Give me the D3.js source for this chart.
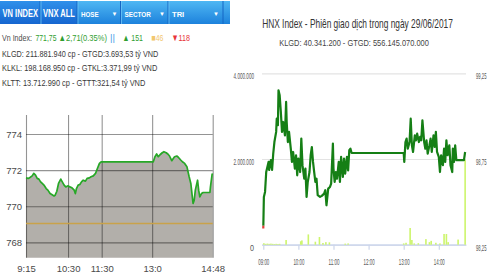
<!DOCTYPE html>
<html>
<head>
<meta charset="utf-8">
<script src="https://cdn.jsdelivr.net/npm/d3@7"></script>
<style>
  html, body { margin: 0; padding: 0; background: #fff; }
  svg { display: block; }
  text { font-family: "Liberation Sans", Arial, sans-serif; }
</style>
</head>
<body>
<svg id="chart" width="490" height="275"></svg>
<script>
// ---------- VN-Index intraday (HOSE) ----------
const vnTimes = [
  "9:15","9:19","9:22","9:26","9:29","9:32","9:35","9:38","9:41","9:44","9:47","9:51","9:54","9:58",
  "10:01","10:05","10:07","10:10","10:13","10:17","10:19","10:23","10:26","10:30","10:33","10:37","10:41",
  "10:43","10:45","10:48","10:51","10:54","10:57","11:01","11:04","11:08","11:11","11:15","11:19","11:22",
  "11:26","11:29","13:00","13:02","13:05","13:08","13:11","13:14","13:18","13:21","13:25","13:28","13:31",
  "13:33","13:35","13:38","13:40","13:44","13:47","13:51","13:54","13:58","14:02","14:04","14:06","14:09",
  "14:11","14:13","14:15","14:17","14:21","14:23","14:25","14:28","14:31","14:43","14:44","14:47","14:48"
];
const vnValues = [
  771.57,771.54,771.59,771.68,771.82,771.72,771.54,771.50,771.35,771.26,771.17,770.98,770.89,770.70,
  770.65,770.57,770.61,770.83,771.26,771.50,771.39,771.17,771.07,771.13,771.07,771.02,770.89,
  770.70,770.98,771.17,771.20,771.35,771.44,771.39,771.54,771.57,771.63,771.68,771.82,772.06,
  772.37,772.46,772.46,772.46,772.74,772.89,772.74,772.85,772.96,773.02,772.96,772.89,772.78,
  772.65,772.52,772.65,772.74,772.78,772.70,772.56,772.46,772.37,772.19,771.91,771.63,771.26,
  770.70,770.15,770.33,770.89,771.44,770.89,770.52,770.70,770.76,770.76,771.07,771.78,771.75
];
const vnReference = 769.04;
const vnYTicks = [768, 770, 772, 774];
const vnXTickLabels = ["9:15", "10:30", "11:30", "13:0", "14:48"];

const tabLabels = ["VN INDEX", "VNX ALL", "HOSE", "SECTOR", "TRI"];
const tabHasMenu = [false, false, true, true, true];

const vnLastText = "771,75";
const vnChangeText = "▲2,71(0.35%)";
const vnAdvancers = 151;
const vnUnchanged = 46;
const vnDecliners = 118;
const vnStatLines = [
  "KLGD: 211.881.940 cp - GTGD:3.693,53 tỷ VND",
  "KLKL: 198.168.950 cp - GTKL:3.371,99 tỷ VND",
  "KLTT: 13.712.990 cp - GTTT:321,54 tỷ VND"
];

// ---------- HNX-Index intraday ----------
const hnxTitle = "HNX Index - Phiên giao dịch trong ngày 29/06/2017";
const hnxSubtitle = "KLGD: 40.341.200 - GTGD: 556.145.070.000";
const hnxTimes = [
  "9:00","9:01","9:03","9:05","9:07","9:09","9:10","9:13","9:15","9:17","9:19","9:22","9:23","9:25",
  "9:26","9:28","9:30","9:32","9:34","9:37","9:39","9:40","9:42","9:44","9:47","9:49","9:51","9:54",
  "9:56","9:58","10:00","10:03","10:05","10:07","10:10","10:12","10:14","10:16","10:19","10:21","10:23",
  "10:25","10:27","10:29","10:31","10:33","10:37","10:40","10:44","10:46","10:48","10:51","10:54","10:56",
  "10:59","11:00","11:02","11:04","11:06","11:09","11:11","11:13","11:16","11:18","11:20","11:23","11:25",
  "11:27","11:29","11:31","13:00","13:01","13:03","13:05","13:07","13:10","13:12","13:14","13:16","13:19",
  "13:21","13:23","13:26","13:28","13:30","13:32","13:35","13:37","13:39","13:41","13:44","13:46","13:48",
  "13:51","13:53","13:55","13:57","14:00","14:02","14:04","14:07","14:09","14:11","14:13","14:15","14:18",
  "14:20","14:23","14:24","14:26","14:28","14:30","14:36","14:43","14:45"
];
const hnxValues = [
  98.344,98.529,98.558,98.674,98.704,98.733,98.686,98.744,98.686,98.781,98.849,98.908,98.985,98.947,
  99.151,99.122,99.024,98.908,98.966,98.888,99.083,98.966,98.849,98.908,98.810,98.733,98.791,98.694,
  98.772,98.655,98.752,98.674,98.869,98.714,98.635,98.694,98.529,98.616,98.674,98.772,98.820,
  98.733,98.674,98.616,98.635,98.539,98.529,98.535,98.548,98.568,98.480,98.577,98.587,98.606,
  98.840,98.694,98.616,98.674,98.635,98.733,98.616,98.762,98.645,98.752,98.665,98.762,98.684,
  98.801,98.810,98.785,98.785,98.733,98.849,98.869,98.810,98.849,98.985,98.830,98.791,98.888,
  98.859,98.898,98.849,98.879,98.859,98.976,98.849,98.810,98.859,98.781,98.830,98.869,98.791,
  98.888,98.820,98.908,98.791,98.762,98.674,98.772,98.714,98.810,98.733,98.859,98.772,98.830,
  98.714,98.674,98.810,98.733,98.830,98.743,98.743,98.743,98.791
];
const hnxLowZone = 98.36;
const hnxVolTimes = [
  "9:01","9:04","9:07","9:10","9:13","9:16","9:19","9:22","9:25","9:28","9:39","10:04","10:06","10:17",
  "10:29","10:36","10:42","10:47","10:53","11:20","11:25","13:00","13:04","13:11","13:14","13:18","13:25",
  "13:38","13:44","13:47","13:55","14:02","14:09","14:13","14:16","14:33","14:45"
];
const hnxVolumes = [
  35000,20000,25000,20000,25000,20000,15000,20000,15000,20000,110000,80000,100000,240000,
  70000,180000,40000,60000,55000,25000,30000,30000,45000,390000,110000,30000,35000,
  130000,60000,90000,45000,30000,250000,250000,60000,120000,1980000
];
const hnxVolTicks = [0, 2000000, 4000000];
const hnxIdxTicks = [98.25, 98.75, 99.25];
const hnxHourTicks = ["9:00", "10:00", "11:00", "12:00", "13:00", "14:00"];

// ---------- helpers ----------
const at = s => { const [h, m] = s.split(":").map(Number); return new Date(2017, 5, 29, h, m); };
const svg = d3.select("#chart");
const defs = svg.append("defs");

// Compress a text horizontally so it spans at most `width` pixels.
function squeeze(sel, width) {
  sel.each(function (d, i) {
    const el = d3.select(this);
    const w = typeof width === "function" ? width(d, i) : width;
    const k = Math.min(1, w / this.getComputedTextLength());
    const x = +el.attr("x") || 0;
    el.attr("x", 0).attr("transform", `translate(${x},0) scale(${k},1)`);
  });
  return sel;
}

// ================= Left panel: tab bar =================
const tabEdges = [0, 40.5, 77.5, 121, 168.5, 222.5];
const barRight = 230, barTop = 1, barBottom = 24;

function vGrad(id, top, bottom) {
  const g = defs.append("linearGradient").attr("id", id).attr("x1", 0).attr("y1", 0).attr("x2", 0).attr("y2", 1);
  g.append("stop").attr("offset", "0%").attr("stop-color", top);
  g.append("stop").attr("offset", "100%").attr("stop-color", bottom);
}
vGrad("tabNormal", "#4fb7f3", "#1d82dc");
vGrad("tabActive", "#2f90ea", "#1566d0");

const header = svg.append("g");
header.append("rect").attr("x", 0).attr("y", barTop).attr("width", barRight).attr("height", barBottom - barTop)
  .attr("fill", "url(#tabNormal)");
tabLabels.forEach((lab, i) => {
  const x0 = tabEdges[i], x1 = i + 1 < tabEdges.length ? tabEdges[i + 1] : barRight;
  if (!tabHasMenu[i]) {
    header.append("rect").attr("x", x0).attr("y", barTop).attr("width", x1 - x0).attr("height", barBottom - barTop)
      .attr("fill", "url(#tabActive)");
    squeeze(header.append("text").attr("x", (x0 + x1) / 2).attr("y", 17.3).attr("text-anchor", "middle")
      .attr("fill", "#fff").attr("font-weight", "bold").attr("font-size", 10).text(lab), x1 - x0 - 5);
  } else {
    squeeze(header.append("text").attr("x", x0 + 3.5).attr("y", 16.6)
      .attr("fill", "#fff").attr("font-weight", "bold").attr("font-size", 7.6).text(lab), lab.length * 4.4);
    header.append("text").attr("x", x1 - 6.5).attr("y", 15.5).attr("text-anchor", "middle")
      .attr("fill", "#fff").attr("font-size", 6).text("▼");
  }
  if (i > 0) {
    header.append("line").attr("x1", x0 - 0.5).attr("x2", x0 - 0.5).attr("y1", barTop).attr("y2", barBottom)
      .attr("stroke", "#1466c4").attr("stroke-width", 1);
    header.append("line").attr("x1", x0 + 0.5).attr("x2", x0 + 0.5).attr("y1", barTop).attr("y2", barBottom)
      .attr("stroke", "#6cc4f6").attr("stroke-width", 0.8);
  }
});
header.append("line").attr("x1", tabEdges[5] + 0.5).attr("x2", tabEdges[5] + 0.5)
  .attr("y1", barTop).attr("y2", barBottom).attr("stroke", "#1466c4");

// ================= Left panel: summary text =================
const info = svg.append("g").attr("font-size", 9.5);
const line1 = [
  { s: "Vn Index:", x: 2, w: 30, c: "#4a4a4a" },
  { s: vnLastText, x: 35.5, w: 21, c: "#2f9e2f" },
  { s: vnChangeText, x: 58.5, w: 48.5, c: "#2f9e2f" },
  { s: "||", x: 110, w: 5, c: "#4aa0e8" },
  { s: "▲ " + vnAdvancers, x: 122.5, w: 20.5, c: "#2f9e2f" },
  { s: "■" + vnUnchanged, x: 151.5, w: 12, c: "#f2c76e" },
  { s: "▼" + vnDecliners, x: 171.5, w: 18.5, c: "#e8343a" }
];
line1.forEach(p => {
  squeeze(info.append("text").attr("x", p.x).attr("y", 41.3).attr("fill", p.c).text(p.s), p.w);
});
const statWidths = [156.5, 155.5, 143.5];
vnStatLines.forEach((s, i) => {
  squeeze(info.append("text").attr("x", 2).attr("y", 56.6 + i * 14.8).attr("fill", "#3a3a3a").text(s),
    statWidths[i]);
});

// ================= Left panel: VN-Index chart =================
const L = { left: 26, right: 212.7, top: 115, bottom: 257.7 };
const xVn = d3.scaleTime().domain([at("9:15"), at("14:48")]).range([L.left, L.right]);
const yVn = d3.scaleLinear().domain([767.15, 775.05]).range([L.bottom, L.top]);
const vnData = vnTimes.map((t, i) => ({ t: at(t), v: vnValues[i] }));

const left = svg.append("g");
left.append("path").datum(vnData)
  .attr("d", d3.area().x(d => xVn(d.t)).y0(L.bottom).y1(d => yVn(d.v)))
  .attr("fill", "#b2afaa");

const gridColor = "rgba(0,0,0,0.42)";
const axY = left.append("g").attr("transform", `translate(${L.left},0)`)
  .call(d3.axisLeft(yVn).tickValues(vnYTicks).tickSize(-(L.right - L.left)).tickPadding(4).tickFormat(d3.format("d")));
axY.select(".domain").remove();
axY.selectAll("line").attr("stroke", gridColor).attr("stroke-width", 1.1);
axY.selectAll("text").attr("fill", "#4a4a4a").attr("font-size", 9.5)
  .attr("font-family", '"Liberation Sans", Arial, sans-serif');

const axX = left.append("g").attr("transform", `translate(0,${L.bottom})`)
  .call(d3.axisBottom(xVn).tickValues(vnXTickLabels.map(at)).tickFormat((d, i) => vnXTickLabels[i])
    .tickSize(-(L.bottom - L.top)).tickPadding(7.5));
axX.select(".domain").remove();
axX.selectAll("line").attr("stroke", gridColor).attr("stroke-width", 1.1);
axX.selectAll("text").attr("fill", "#4a4a4a").attr("font-size", 9.5)
  .attr("font-family", '"Liberation Sans", Arial, sans-serif');

left.append("line").attr("x1", L.left).attr("x2", L.right)
  .attr("y1", yVn(vnReference)).attr("y2", yVn(vnReference))
  .attr("stroke", "#c9a24a").attr("stroke-width", 1.4);

left.append("path").datum(vnData)
  .attr("d", d3.line().x(d => xVn(d.t)).y(d => yVn(d.v)))
  .attr("fill", "none").attr("stroke", "#27a827").attr("stroke-width", 1.7).attr("stroke-linejoin", "round");

// ================= Right panel: HNX-Index chart =================
const R = { left: 262, right: 466, top: 73.3, bottom: 244.7 };
const xHnx = d3.scaleTime()
  .domain([new Date(2017, 5, 29, 8, 57, 48), new Date(2017, 5, 29, 14, 46, 30)])
  .range([R.left, R.right]);
const yVol = d3.scaleLinear().domain([0, 4000000]).range([R.bottom, R.top]);
const yIdx = d3.scaleLinear().domain([98.25, 99.25]).range([R.bottom, R.top]);
const vnLocale = d3.formatLocale({ decimal: ",", thousands: ".", grouping: [3], currency: ["", ""] });

const right = svg.append("g");
const narrow = '"Liberation Sans Narrow", "Liberation Sans", Arial, sans-serif';

squeeze(right.append("text").attr("x", 357.5).attr("y", 28).attr("text-anchor", "middle")
  .attr("font-size", 12).attr("fill", "#333").attr("font-family", narrow).text(hnxTitle), 191);
squeeze(right.append("text").attr("x", 354).attr("y", 46.4).attr("text-anchor", "middle")
  .attr("font-size", 9.5).attr("fill", "#444").attr("font-family", narrow).text(hnxSubtitle), 150);

const volAxis = right.append("g").attr("transform", `translate(${R.left},0)`)
  .call(d3.axisLeft(yVol).tickValues(hnxVolTicks).tickSize(-(R.right - R.left)).tickPadding(8)
    .tickFormat(vnLocale.format(",d")));
volAxis.select(".domain").remove();
volAxis.selectAll("line").attr("stroke", d => d === 0 ? "#ccd6eb" : "#e3e3e3").attr("stroke-width", 1.2);
squeeze(volAxis.selectAll("text").attr("fill", "#555").attr("font-size", 9).attr("font-family", narrow)
  .attr("dy", "0.62em"), d => d === 0 ? 4 : 20.5);

const idxAxis = right.append("g").attr("transform", `translate(${R.right},0)`)
  .call(d3.axisRight(yIdx).tickValues(hnxIdxTicks).tickSize(0).tickPadding(10)
    .tickFormat(vnLocale.format(",.2f")));
idxAxis.select(".domain").remove();
squeeze(idxAxis.selectAll("text").attr("fill", "#555").attr("font-size", 9).attr("font-family", narrow)
  .attr("dy", "0.62em"), 10.5);

const timeAxis = right.append("g").attr("transform", `translate(0,${R.bottom})`)
  .call(d3.axisBottom(xHnx).tickValues(hnxHourTicks.map(at)).tickFormat(d3.timeFormat("%H:%M"))
    .tickSize(5).tickSizeOuter(0).tickPadding(8.5));
timeAxis.select(".domain").attr("stroke", "#ccd6eb").attr("stroke-width", 1.2);
timeAxis.selectAll("line").attr("stroke", "#ccd6eb").attr("stroke-width", 1.2);
squeeze(timeAxis.selectAll("text").attr("fill", "#555").attr("font-size", 9).attr("font-family", narrow), 11);

// volume bars
right.append("g").selectAll("rect")
  .data(hnxVolTimes.map((t, i) => ({ t: at(t), v: hnxVolumes[i] })))
  .join("rect")
  .attr("x", d => xHnx(d.t) - 0.8).attr("width", 1.6)
  .attr("y", d => yVol(d.v)).attr("height", d => yVol(0) - yVol(d.v))
  .attr("fill", "#cdf56c");

// index line, with the low zone drawn in red
const hnxData = hnxTimes.map((t, i) => ({ t: at(t), v: hnxValues[i] }));
const hnxLine = d3.line().x(d => xHnx(d.t)).y(d => yIdx(d.v));
defs.append("clipPath").attr("id", "hnxUpper").append("rect")
  .attr("x", R.left - 5).attr("y", 0).attr("width", R.right - R.left + 10).attr("height", yIdx(hnxLowZone));
defs.append("clipPath").attr("id", "hnxLower").append("rect")
  .attr("x", R.left - 5).attr("y", yIdx(hnxLowZone)).attr("width", R.right - R.left + 10).attr("height", 40);
right.append("path").datum(hnxData).attr("d", hnxLine).attr("clip-path", "url(#hnxUpper)")
  .attr("fill", "none").attr("stroke", "#157f15").attr("stroke-width", 2.2).attr("stroke-linejoin", "round");
right.append("path").datum(hnxData).attr("d", hnxLine).attr("clip-path", "url(#hnxLower)")
  .attr("fill", "none").attr("stroke", "#e0403a").attr("stroke-width", 2.2);
</script>
</body>
</html>
